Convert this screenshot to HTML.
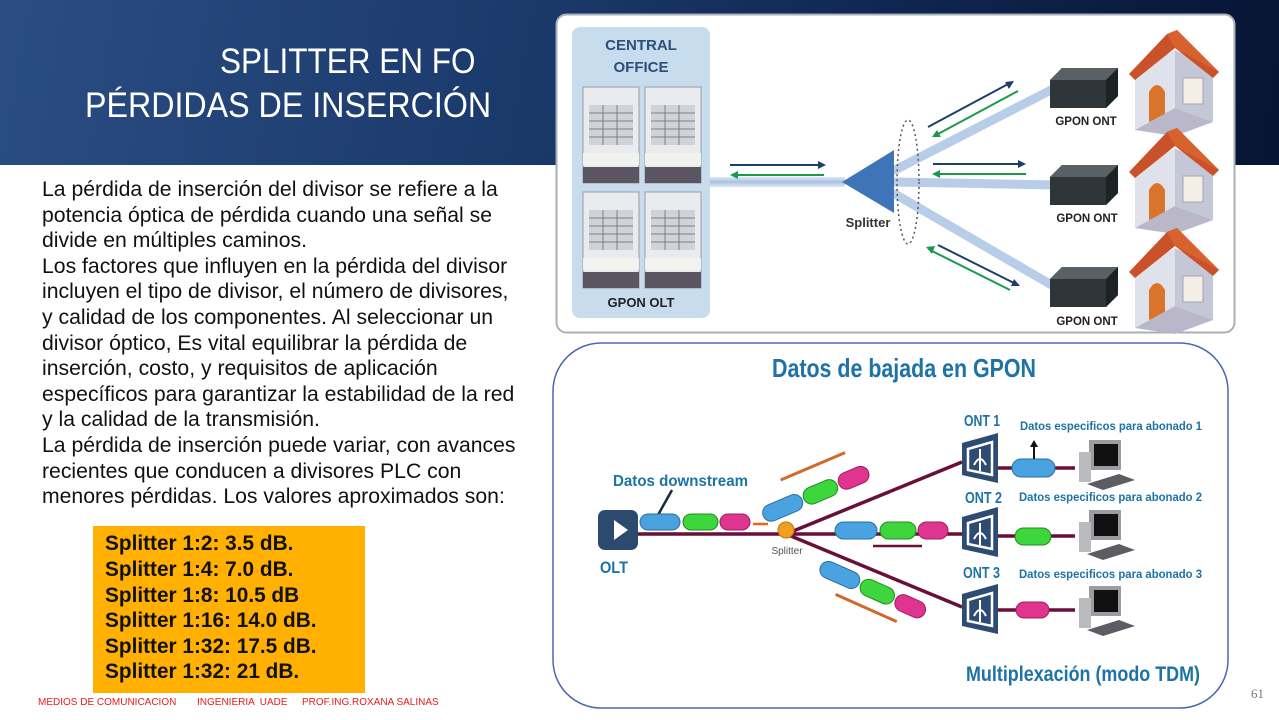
<!DOCTYPE html>
<html><head><meta charset="utf-8">
<style>
*{margin:0;padding:0}
body{width:1279px;height:720px;position:relative;overflow:hidden;background:#fff;font-family:"Liberation Sans",sans-serif}
.band{position:absolute;left:0;top:0;width:1279px;height:165px;background:linear-gradient(100deg,#2a4d82 0%,#1b3a6c 40%,#0f2550 70%,#071433 100%)}
.t{position:absolute;color:#fff;font-size:35px;white-space:nowrap;transform-origin:left top}
.body{position:absolute;left:42px;top:177px;font-size:21.2px;line-height:25.6px;color:#111;white-space:nowrap}
.box{position:absolute;left:93px;top:526px;width:272px;height:167px;background:#ffb000}
.box div{position:absolute;left:12px;font-weight:bold;font-size:20.8px;color:#111;white-space:nowrap}
.foot{position:absolute;top:697px;font-size:10px;color:#e81c1c;white-space:nowrap}
</style></head><body>
<div class="band"></div>
<div class="t" style="left:220px;top:42px;transform:scaleX(0.9)">SPLITTER EN FO</div>
<div class="t" style="left:85px;top:86px;transform:scaleX(0.92)">PÉRDIDAS DE INSERCIÓN</div>

<div class="body">La pérdida de inserción del divisor se refiere a la<br>potencia óptica de pérdida cuando una señal se<br>divide en múltiples caminos.<br>Los factores que influyen en la pérdida del divisor<br>incluyen el tipo de divisor, el número de divisores,<br>y calidad de los componentes. Al seleccionar un<br>divisor óptico, Es vital equilibrar la pérdida de<br>inserción, costo, y requisitos de aplicación<br>específicos para garantizar la estabilidad de la red<br>y la calidad de la transmisión.<br>La pérdida de inserción puede variar, con avances<br>recientes que conducen a divisores PLC con<br>menores pérdidas. Los valores aproximados son:</div>

<div class="box">
<div style="top:6px">Splitter 1:2: 3.5 dB.</div>
<div style="top:32px">Splitter 1:4: 7.0 dB.</div>
<div style="top:57.5px">Splitter 1:8: 10.5 dB</div>
<div style="top:83px">Splitter 1:16: 14.0 dB.</div>
<div style="top:108.5px">Splitter 1:32: 17.5 dB.</div>
<div style="top:134px">Splitter 1:32: 21 dB.</div>
</div>
<div class="foot" style="left:38px">MEDIOS DE COMUNICACION</div>
<div class="foot" style="left:197px">INGENIERIA &nbsp;UADE</div>
<div class="foot" style="left:302px">PROF.ING.ROXANA SALINAS</div>

<svg width="1279" height="720" style="position:absolute;left:0;top:0" xmlns="http://www.w3.org/2000/svg">
<defs>
<linearGradient id="fib" x1="0" y1="0" x2="0" y2="1"><stop offset="0" stop-color="#dce8f5"/><stop offset=".5" stop-color="#a9c2e2"/><stop offset="1" stop-color="#dce8f5"/></linearGradient>
<g id="rack">
<rect x="0" y="0" width="56" height="96" fill="#e9ebee" stroke="#9a9ea5"/>
<rect x="6" y="18" width="44" height="40" fill="#cfd3d8"/>
<g stroke="#7b8088" stroke-width="1"><line x1="6" y1="26" x2="50" y2="26"/><line x1="6" y1="34" x2="50" y2="34"/><line x1="6" y1="42" x2="50" y2="42"/><line x1="6" y1="50" x2="50" y2="50"/><line x1="20" y1="18" x2="20" y2="58"/><line x1="34" y1="18" x2="34" y2="58"/></g>
<rect x="0" y="80" width="56" height="16" fill="#5a5560"/>
<rect x="0" y="66" width="56" height="12" fill="#f2f2ef"/>
</g>
<g id="house">
<polygon points="8,42 48,20 48,78 8,100" fill="#dfe2ea"/>
<polygon points="48,20 86,40 86,92 48,78" fill="#c4c8d6"/>
<polygon points="2,44 40,4 50,0 92,42 86,48 48,18 8,50" fill="#c9522b"/>
<polygon points="40,4 50,0 92,42 48,18" fill="#d8622e"/>
<path d="M22 92 V62 Q30 48 38 62 V86 Z" fill="#d9742a"/>
<rect x="56" y="48" width="20" height="26" fill="#f3efe6" stroke="#a8a2b4"/>
<polygon points="8,100 48,78 86,92 48,106" fill="#b9b7c9"/>
</g>
<g id="ont">
<polygon points="0,12 12,0 68,0 68,28 56,40 0,40" fill="#2f3639"/>
<polygon points="0,12 12,0 68,0 56,12" fill="#596165"/>
<polygon points="56,12 68,0 68,28 56,40" fill="#1d2224"/>
</g>
<g id="ontb">
<polygon points="0,10 36,0 36,50 0,42" fill="#2e4b72"/>
<polygon points="6,16 30,9 30,42 6,37" fill="none" stroke="#fff" stroke-width="2.5"/>
<path d="M12 32 Q18 20 24 32 M18 16 V38" stroke="#fff" stroke-width="2" fill="none"/>
</g>
<g id="pc">
<rect x="14" y="0" width="32" height="30" fill="#9a9ca0"/>
<rect x="19" y="4" width="24" height="22" fill="#111"/>
<rect x="4" y="12" width="12" height="30" fill="#b9bbbf"/>
<polygon points="12,44 44,34 60,40 28,50" fill="#5b5d62"/>
</g>
</defs>

<rect x="556.5" y="14.5" width="678" height="318" rx="10" fill="#fff" stroke="#aab0b8" stroke-width="2"/>
<rect x="572" y="27" width="138" height="291" rx="8" fill="#c7dcec"/>
<text x="641" y="50" text-anchor="middle" font-size="15" font-weight="bold" fill="#2d4f7a">CENTRAL</text>
<text x="641" y="72" text-anchor="middle" font-size="15" font-weight="bold" fill="#2d4f7a">OFFICE</text>
<use href="#rack" x="583" y="87"/><use href="#rack" x="645" y="87"/>
<use href="#rack" x="583" y="192"/><use href="#rack" x="645" y="192"/>
<text x="641" y="307" text-anchor="middle" font-size="13" font-weight="bold" fill="#222">GPON OLT</text>

<rect x="710" y="177" width="135" height="10" fill="url(#fib)"/>
<g stroke="#b8cde8" stroke-width="9" stroke-linecap="round">
<line x1="895" y1="170" x2="1055" y2="88"/>
<line x1="895" y1="182" x2="1055" y2="185"/>
<line x1="895" y1="194" x2="1055" y2="287"/>
</g>
<polygon points="842,182 894,150 894,213" fill="#3d75b8"/>
<ellipse cx="908" cy="182" rx="11" ry="62" fill="none" stroke="#555" stroke-width="1.5" stroke-dasharray="2 3"/>
<text x="868" y="227" text-anchor="middle" font-size="13" font-weight="bold" fill="#333">Splitter</text>
<g stroke-width="2">
<line x1="730" y1="165" x2="820" y2="165" stroke="#1d3e6b"/><polygon points="826,165 818,161 818,169" fill="#1d3e6b"/>
<line x1="736" y1="175" x2="824" y2="175" stroke="#1c9a4a"/><polygon points="730,175 738,171 738,179" fill="#1c9a4a"/>
<line x1="933" y1="164" x2="1020" y2="164" stroke="#1d3e6b"/><polygon points="1026,164 1018,160 1018,168" fill="#1d3e6b"/>
<line x1="938" y1="174" x2="1026" y2="174" stroke="#1c9a4a"/><polygon points="932,174 940,170 940,178" fill="#1c9a4a"/>
<line x1="928" y1="127" x2="1010" y2="83" stroke="#1d3e6b"/><polygon points="1014,81 1005,82 1009,89" fill="#1d3e6b"/>
<line x1="938" y1="134" x2="1018" y2="91" stroke="#1c9a4a"/><polygon points="932,137 937,130 941,137" fill="#1c9a4a"/>
<line x1="938" y1="245" x2="1016" y2="284" stroke="#1d3e6b"/><polygon points="1020,286 1011,286 1014,279" fill="#1d3e6b"/>
<line x1="932" y1="251" x2="1010" y2="290" stroke="#1c9a4a"/><polygon points="926,247 935,246 932,254" fill="#1c9a4a"/>
</g>
<use href="#ont" x="1050" y="68"/><use href="#ont" x="1050" y="165"/><use href="#ont" x="1050" y="267"/>
<text x="1086" y="125" text-anchor="middle" font-size="11.5" font-weight="bold" fill="#222">GPON ONT</text>
<text x="1087" y="222" text-anchor="middle" font-size="11.5" font-weight="bold" fill="#222">GPON ONT</text>
<text x="1087" y="325" text-anchor="middle" font-size="11.5" font-weight="bold" fill="#222">GPON ONT</text>
<use href="#house" x="1127" y="30"/><use href="#house" x="1127" y="128"/><use href="#house" x="1127" y="228"/>

<rect x="553" y="343" width="675" height="365" rx="48" fill="#fff" stroke="#4a68ad" stroke-width="1.5"/>
<text x="772" y="377" font-size="26" font-weight="bold" fill="#1d72a6" textLength="264" lengthAdjust="spacingAndGlyphs">Datos de bajada en GPON</text>
<g stroke="#6a0f3a" stroke-width="3.5">
<line x1="636" y1="534" x2="786" y2="534"/>
<line x1="786" y1="534" x2="962" y2="462"/>
<line x1="786" y1="534" x2="962" y2="534"/>
<line x1="786" y1="534" x2="962" y2="607"/>
<line x1="998" y1="468" x2="1075" y2="468"/>
<line x1="998" y1="536" x2="1075" y2="536"/>
<line x1="998" y1="610" x2="1075" y2="610"/>
</g>
<rect x="598" y="510" width="40" height="40" rx="7" fill="#2c4a6e"/>
<polygon points="614,520 628,530 614,540" fill="#fff"/>
<text x="600" y="573" font-size="17" font-weight="bold" fill="#1d72a6" textLength="28" lengthAdjust="spacingAndGlyphs">OLT</text>
<text x="613" y="486" font-size="16" font-weight="bold" fill="#1d72a6" textLength="135" lengthAdjust="spacingAndGlyphs">Datos downstream</text>
<line x1="672" y1="490" x2="658" y2="515" stroke="#1a2a3a" stroke-width="2.5"/>
<g stroke-width="1">
<rect x="640" y="514" width="40" height="16" rx="8" fill="#4aa3e0" stroke="#2a6ea0"/>
<rect x="683" y="514" width="35" height="16" rx="8" fill="#3dd63d" stroke="#238a23"/>
<rect x="720" y="514" width="30" height="16" rx="8" fill="#e0358f" stroke="#9a1e60"/>
</g>
<line x1="753" y1="524" x2="768" y2="524" stroke="#e06a1a" stroke-width="2.5"/>
<circle cx="786" cy="530" r="8" fill="#f0a020" stroke="#c07010"/>
<text x="787" y="554" text-anchor="middle" font-size="10" fill="#555">Splitter</text>
<g transform="rotate(-23 800 500)">
<rect x="760" y="492" width="42" height="17" rx="8.5" fill="#4aa3e0" stroke="#2a6ea0"/>
<rect x="804" y="492" width="36" height="17" rx="8.5" fill="#3dd63d" stroke="#238a23"/>
<rect x="842" y="492" width="32" height="17" rx="8.5" fill="#e0358f" stroke="#9a1e60"/>
<line x1="790" y1="474" x2="860" y2="474" stroke="#d06a2a" stroke-width="3"/>
</g>
<rect x="835" y="522" width="42" height="17" rx="8.5" fill="#4aa3e0" stroke="#2a6ea0"/>
<rect x="880" y="522" width="36" height="17" rx="8.5" fill="#3dd63d" stroke="#238a23"/>
<rect x="918" y="522" width="30" height="17" rx="8.5" fill="#e0358f" stroke="#9a1e60"/>
<line x1="873" y1="546" x2="922" y2="546" stroke="#6a0f3a" stroke-width="2.5"/>
<g transform="rotate(24 830 570)">
<rect x="820" y="562" width="42" height="17" rx="8.5" fill="#4aa3e0" stroke="#2a6ea0"/>
<rect x="864" y="562" width="36" height="17" rx="8.5" fill="#3dd63d" stroke="#238a23"/>
<rect x="902" y="562" width="32" height="17" rx="8.5" fill="#e0358f" stroke="#9a1e60"/>
<line x1="845" y1="590" x2="912" y2="590" stroke="#d06a2a" stroke-width="3"/>
</g>
<use href="#ontb" x="962" y="433"/><use href="#ontb" x="962" y="507"/><use href="#ontb" x="962" y="584"/>
<g font-weight="bold" fill="#1d72a6">
<text x="964" y="426" font-size="16" textLength="36" lengthAdjust="spacingAndGlyphs">ONT 1</text>
<text x="965" y="503" font-size="16" textLength="37" lengthAdjust="spacingAndGlyphs">ONT 2</text>
<text x="963" y="578" font-size="16" textLength="37" lengthAdjust="spacingAndGlyphs">ONT 3</text>
<text x="1020" y="430" font-size="12" textLength="182" lengthAdjust="spacingAndGlyphs">Datos especificos para abonado 1</text>
<text x="1019" y="501" font-size="12" textLength="183" lengthAdjust="spacingAndGlyphs">Datos especificos para abonado 2</text>
<text x="1019" y="578" font-size="12" textLength="183" lengthAdjust="spacingAndGlyphs">Datos especificos para abonado 3</text>
<text x="966" y="681" font-size="21" textLength="234" lengthAdjust="spacingAndGlyphs">Multiplexación (modo TDM)</text>
</g>
<rect x="1012" y="459" width="43" height="18" rx="9" fill="#4aa3e0" stroke="#2a6ea0"/>
<line x1="1034" y1="459" x2="1034" y2="444" stroke="#111" stroke-width="2"/><polygon points="1034,440 1030,447 1038,447" fill="#111"/>
<rect x="1015" y="528" width="36" height="17" rx="8.5" fill="#3dd63d" stroke="#238a23"/>
<rect x="1016" y="602" width="33" height="16" rx="8" fill="#e0358f" stroke="#9a1e60"/>
<use href="#pc" x="1075" y="440"/><use href="#pc" x="1075" y="510"/><use href="#pc" x="1075" y="586"/>
<text x="1251" y="698" font-size="13" fill="#777" font-family="Liberation Serif">61</text>
</svg>
</body></html>
